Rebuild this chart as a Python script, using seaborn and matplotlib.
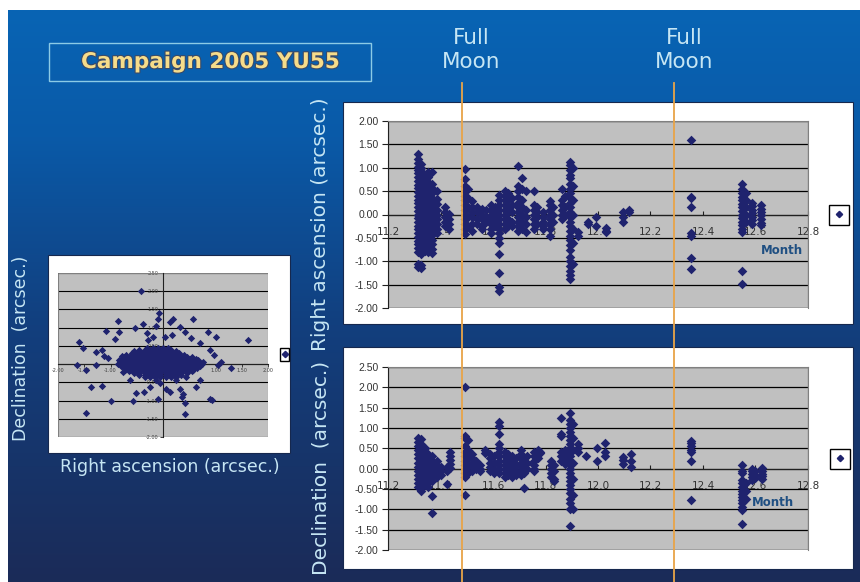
import numpy as np
import pandas as pd
import matplotlib.pyplot as plt
import seaborn as sns
import matplotlib.patheffects as pe
from matplotlib.colors import LinearSegmentedColormap
from matplotlib.lines import Line2D
from matplotlib.patches import Rectangle

W, H = 860, 582

# ---------------- data ----------------
full_moon = [11.48, 12.29]
month_ticks = [11.2, 11.4, 11.6, 11.8, 12.0, 12.2, 12.4, 12.6, 12.8]
ra_ticks = [-2.0, -1.5, -1.0, -0.5, 0.0, 0.5, 1.0, 1.5, 2.0]
dec_ticks = [-2.0, -1.5, -1.0, -0.5, 0.0, 0.5, 1.0, 1.5, 2.0, 2.5]
off_ticks_x = [-2.0, -1.5, -1.0, -0.5, 0.0, 0.5, 1.0, 1.5, 2.0]

# right ascension residuals, one list per observing time (month)
ra_month = [11.315, 11.327, 11.340, 11.353, 11.366, 11.388, 11.418, 11.433,
            11.494, 11.505, 11.520, 11.540, 11.558, 11.575, 11.594, 11.609,
            11.624, 11.644, 11.659, 11.674, 11.694, 11.709, 11.724, 11.755,
            11.766, 11.790, 11.818, 11.830, 11.864, 11.876, 11.894, 11.905,
            11.925, 11.963, 11.993, 12.030, 12.095, 12.118, 12.355, 12.550,
            12.562, 12.588, 12.622]
ra_vals = [
    [1.30, 1.18, 1.10, 1.02, 0.95, 0.88, 0.80, 0.72, 0.64, 0.56, 0.48, 0.40, 0.32, 0.24, 0.16,
     0.08, 0.00, -0.08, -0.16, -0.24, -0.32, -0.40, -0.48, -0.56, -0.64, -0.72, -0.80, -1.05, -1.12],
    [1.08, 1.00, 0.92, 0.84, 0.76, 0.68, 0.60, 0.52, 0.44, 0.36, 0.28, 0.20, 0.12, 0.04, -0.04,
     -0.12, -0.20, -0.28, -0.36, -0.44, -0.52, -0.60, -0.68, -0.76, -0.84, -1.08, -1.15],
    [0.82, 0.72, 0.62, 0.52, 0.42, 0.32, 0.22, 0.12, 0.02, -0.08, -0.18, -0.28, -0.38, -0.48, -0.58, -0.68, -0.78],
    [0.90, 0.80, 0.70, 0.60, 0.50, 0.40, 0.30, 0.20, 0.10, 0.00, -0.10, -0.20, -0.30, -0.40, -0.50, -0.60, -0.70, -0.80],
    [0.90, 0.66, 0.56, 0.46, 0.36, 0.26, 0.16, 0.06, -0.04, -0.14, -0.24, -0.34, -0.44, -0.54, -0.64, -0.74, -0.82],
    [0.50, 0.34, 0.22, 0.10, 0.00, -0.10, -0.20, -0.30, -0.40],
    [0.16, 0.05, -0.05, -0.15, -0.25],
    [0.02, -0.10, -0.20, -0.32],
    [0.98, 0.76, 0.62, 0.50, 0.40, 0.30, 0.20, 0.10, 0.00, -0.10, -0.20, -0.30, -0.42],
    [0.55, 0.35, 0.15, -0.05, -0.25],
    [0.28, 0.15, 0.05, -0.05, -0.20, -0.35],
    [0.15, 0.05, -0.10, -0.20],
    [0.12, 0.00, -0.10, -0.25, -0.32],
    [0.10, -0.05, -0.15],
    [0.20, 0.10, 0.00, -0.10, -0.20, -0.30, -0.40],
    [0.15, 0.05, -0.05, -0.15, -0.25],
    [0.42, 0.30, 0.20, 0.10, 0.00, -0.10, -0.20, -0.30, -0.40, -0.50, -0.60, -0.85, -1.25, -1.56, -1.63],
    [0.50, 0.40, 0.30, 0.20, 0.10, 0.00, -0.10, -0.20, -0.30],
    [0.45, 0.30, 0.15, 0.05, -0.10, -0.25],
    [0.35, 0.20, 0.05, -0.15, -0.25],
    [1.03, 0.62, 0.50, 0.38, 0.25, 0.15, 0.05, -0.05, -0.15, -0.25, -0.35],
    [0.78, 0.55, 0.30, 0.15, 0.00, -0.15, -0.30],
    [0.50, 0.10, -0.05, -0.20, -0.38],
    [0.50, 0.20, 0.10, 0.00, -0.10, -0.20, -0.30],
    [0.15, 0.05, -0.05, -0.20],
    [0.05, -0.05, -0.15, -0.25, -0.30],
    [0.28, 0.20, 0.10, 0.00, -0.10, -0.20, -0.30, -0.45],
    [0.15, 0.00, -0.15],
    [0.55, 0.30, 0.20, 0.10, 0.00, -0.10],
    [0.40, 0.15, 0.00],
    [1.12, 1.05, 0.95, 0.85, 0.78, 0.65, 0.55, 0.45, 0.35, 0.25, 0.15, 0.05, -0.05, -0.15, -0.25,
     -0.35, -0.45, -0.55, -0.65, -0.75, -0.90, -1.00, -1.10, -1.20, -1.30, -1.38],
    [1.00, 0.60, 0.30, 0.00, -0.30, -0.60, -1.05],
    [-0.38, -0.45],
    [-0.15, -0.20],
    [-0.05, -0.25],
    [-0.28, -0.35, -0.38],
    [0.05, -0.05, -0.15],
    [0.10, 0.06],
    [1.60, 0.38, 0.35, 0.15, -0.40, -0.45, -0.93, -1.17],
    [0.65, 0.55, 0.45, 0.38, 0.30, 0.22, 0.15, 0.08, 0.00, -0.08, -0.15, -0.22, -0.30, -0.38, -1.20, -1.48],
    [0.45, 0.30, 0.15, 0.00, -0.15],
    [0.25, 0.18, 0.10, 0.03, -0.05, -0.12, -0.20],
    [0.20, 0.12, 0.05, -0.02, -0.10, -0.18, -0.22],
]

# declination residuals
dec_month = [11.315, 11.327, 11.340, 11.353, 11.366, 11.385, 11.400, 11.425, 11.437,
             11.494, 11.505, 11.520, 11.535, 11.552, 11.570, 11.590, 11.605, 11.624,
             11.644, 11.659, 11.674, 11.689, 11.705, 11.719, 11.730, 11.755, 11.770,
             11.780, 11.820, 11.832, 11.860, 11.875, 11.894, 11.905, 11.922, 11.955,
             11.995, 12.027, 12.095, 12.125, 12.355, 12.550, 12.562, 12.585, 12.600,
             12.625]
dec_vals = [
    [0.75, 0.65, 0.55, 0.45, 0.35, 0.25, 0.15, 0.05, -0.05, -0.15, -0.25, -0.35, -0.45],
    [0.72, 0.60, 0.48, 0.36, 0.24, 0.12, 0.00, -0.12, -0.24, -0.36, -0.48, -0.55],
    [0.50, 0.40, 0.30, 0.20, 0.10, 0.00, -0.10, -0.20, -0.30, -0.40],
    [0.35, 0.25, 0.15, 0.05, -0.05, -0.15, -0.25, -0.35, -0.45],
    [0.30, 0.20, 0.10, 0.00, -0.10, -0.20, -0.30, -0.68, -1.10],
    [0.20, 0.10, 0.00, -0.10, -0.20],
    [0.05, -0.05, -0.15],
    [0.05, -0.05, -0.38],
    [0.42, 0.32, 0.22, 0.12, 0.02],
    [2.02, 0.80, 0.75, 0.55, 0.40, 0.30, 0.20, 0.10, 0.00, -0.10, -0.20, -0.65],
    [0.70, 0.45, 0.25, 0.05, -0.10],
    [0.35, 0.25, 0.15, 0.05, -0.05],
    [0.20, 0.10, 0.00],
    [0.10, 0.00, -0.05],
    [0.45, 0.38],
    [0.35, 0.25, 0.15, 0.05, -0.05],
    [0.30, 0.15, 0.00, -0.10],
    [1.15, 1.05, 0.85, 0.60, 0.50, 0.40, 0.30, 0.20, 0.10, 0.00, -0.10],
    [0.40, 0.30, 0.20, 0.10, 0.00, -0.10, -0.20],
    [0.35, 0.25, 0.15, 0.05, -0.05, -0.15],
    [0.30, 0.20, 0.10, 0.00, -0.10, -0.20],
    [0.25, 0.10, -0.05, -0.15],
    [0.45, 0.35, 0.25, 0.15, 0.05, -0.05, -0.15],
    [0.20, 0.05, -0.10, -0.48],
    [0.30, 0.15, 0.00],
    [0.40, 0.30, 0.20, 0.10, 0.00, -0.05],
    [0.45, 0.35, 0.25],
    [0.42, 0.38],
    [0.20, 0.10, 0.00, -0.10, -0.20],
    [0.10, -0.05, -0.25, -0.30],
    [1.25, 0.85, 0.80, 0.40, 0.30, 0.20],
    [0.45, 0.35, 0.25, 0.12],
    [1.38, 1.20, 1.10, 1.00, 0.90, 0.80, 0.70, 0.60, 0.50, 0.40, 0.30, 0.20, 0.10, 0.00, -0.10,
     -0.20, -0.30, -0.40, -0.50, -0.60, -0.75, -0.85, -1.00, -1.40],
    [1.10, 0.75, 0.45, 0.15, -0.25, -0.65, -0.98],
    [0.60, 0.50, 0.42],
    [0.30],
    [0.50, 0.20],
    [0.62, 0.40, 0.32],
    [0.28, 0.22, 0.12],
    [0.35, 0.20, 0.03],
    [0.68, 0.62, 0.55, 0.45, 0.40, 0.20, -0.78],
    [0.10, -0.05, -0.10, -0.28, -0.35, -0.45, -0.55, -0.62, -0.70, -0.78, -0.85, -0.95, -1.02, -1.35],
    [-0.35, -0.55, -0.75],
    [0.00, -0.05, -0.12, -0.20, -0.28],
    [-0.05, -0.15, -0.22],
    [0.02, -0.05, -0.12, -0.18, -0.25],
]

# RA vs Dec: the crowded core (one RA list per Dec row) and the outliers
core_dec = [0.45, 0.40, 0.35, 0.30, 0.25, 0.20, 0.15, 0.10, 0.05, 0.00,
            -0.05, -0.10, -0.15, -0.20, -0.25, -0.30, -0.35]
core_ra = [
    [-0.30, -0.20, -0.10, 0.00, 0.10],
    [-0.45, -0.35, -0.25, -0.15, -0.05, 0.05, 0.15],
    [-0.55, -0.45, -0.35, -0.25, -0.15, -0.05, 0.05, 0.15, 0.25],
    [-0.60, -0.50, -0.40, -0.30, -0.20, -0.10, 0.00, 0.10, 0.20, 0.30],
    [-0.70, -0.60, -0.50, -0.40, -0.30, -0.20, -0.10, 0.00, 0.10, 0.20, 0.30, 0.40],
    [-0.75, -0.65, -0.55, -0.45, -0.35, -0.25, -0.15, -0.05, 0.05, 0.15, 0.25, 0.35, 0.45, 0.55],
    [-0.78, -0.68, -0.58, -0.48, -0.38, -0.28, -0.18, -0.08, 0.02, 0.12, 0.22, 0.32, 0.42, 0.52, 0.62],
    [-0.83, -0.73, -0.63, -0.53, -0.43, -0.33, -0.23, -0.13, -0.03, 0.07, 0.17, 0.27, 0.37, 0.47,
     0.57, 0.67],
    [-0.82, -0.72, -0.62, -0.52, -0.42, -0.32, -0.22, -0.12, -0.02, 0.08, 0.18, 0.28, 0.38, 0.48,
     0.58, 0.68, 0.76],
    [-0.85, -0.75, -0.65, -0.55, -0.45, -0.35, -0.25, -0.15, -0.05, 0.05, 0.15, 0.25, 0.35, 0.45,
     0.55, 0.65, 0.75],
    [-0.80, -0.70, -0.60, -0.50, -0.40, -0.30, -0.20, -0.10, 0.00, 0.10, 0.20, 0.30, 0.40, 0.50,
     0.60, 0.70],
    [-0.75, -0.65, -0.55, -0.45, -0.35, -0.25, -0.15, -0.05, 0.05, 0.15, 0.25, 0.35, 0.45, 0.55, 0.65],
    [-0.72, -0.62, -0.52, -0.42, -0.32, -0.22, -0.12, -0.02, 0.08, 0.18, 0.28, 0.38, 0.48, 0.58],
    [-0.65, -0.55, -0.45, -0.35, -0.25, -0.15, -0.05, 0.05, 0.15, 0.25, 0.35, 0.45, 0.55],
    [-0.55, -0.45, -0.35, -0.25, -0.15, -0.05, 0.05, 0.15, 0.25, 0.35, 0.45],
    [-0.45, -0.35, -0.25, -0.15, -0.05, 0.05, 0.15, 0.25, 0.35],
    [-0.35, -0.25, -0.15, -0.05, 0.05, 0.15, 0.25],
]
scat_ra = [-0.41, -0.08, 0.13, 0.57, -0.86, -0.38, -1.08, -0.83, -0.54, -1.60, -1.52, -0.92,
           -0.30, 0.32, 0.41, 0.86, 1.00, 0.54, 1.62, -1.17, -1.13, -1.05, -1.27, -1.64,
           -0.79, -1.47, -1.38, -1.17, -1.00, -0.58, -0.51, -0.37, -0.25, -0.10, 0.06, 0.32,
           0.41, 0.41, -1.47, 0.63, 0.70, 0.89, 0.94, 1.05, 1.11, 1.30, 0.98, 0.89, 0.70,
           0.19, -1.27, -0.76, -0.63, 0.25, 0.44, -0.13, -0.06, 0.13, 0.38, 0.37, -0.29,
           -0.19, 0.03, 0.18, -0.13, -0.10]
scat_dec = [2.01, 1.41, 1.16, 1.24, 1.18, 1.09, 0.92, 0.89, 0.98, 0.61, 0.43, 0.68,
            0.84, 1.03, 0.89, 0.89, 0.75, 0.71, 0.66, 0.40, 0.22, 0.18, -0.03, -0.03,
            0.22, -0.16, -0.62, -0.60, -1.01, -1.01, -0.79, -0.76, -0.62, -0.97, -0.67, -0.67,
            -1.08, -1.37, -1.34, -0.62, -0.44, -0.97, -0.99, -0.03, 0.06, -0.12, 0.25, 0.38, 0.57,
            1.25, 0.34, -0.21, -0.44, -0.44, -0.35, -0.44, -0.53, -0.76, -0.81, -0.90, 0.66,
            0.75, 0.75, 0.80, 1.04, 1.25]

# ---------------- styling ----------------
navy = '#1f236e'
pale = '#c6e6f4'
plt.rcParams['font.family'] = ['DejaVu Sans']


def box(x0, y0, x1, y1):
    return [x0 / W, 1 - y1 / H, (x1 - x0) / W, (y1 - y0) / H]


def white_panel(x0, y0, x1, y1):
    fig.add_artist(Rectangle((x0 / W, 1 - y1 / H), (x1 - x0) / W, (y1 - y0) / H,
                             transform=fig.transFigure, facecolor='white',
                             edgecolor='#16284e', lw=0.8, zorder=-1))


def legend_box(ax, anchor, fs, hl):
    h = Line2D([], [], marker='D', ls='none', color=navy, ms=3.2)
    ax.legend(handles=[h], labels=[''], loc='center', bbox_to_anchor=anchor,
              frameon=True, fancybox=False, edgecolor='black', framealpha=1,
              handlelength=hl, handletextpad=0, borderpad=0.45, borderaxespad=0,
              fontsize=fs)


def time_chart(rect, month, vals, ylim, yticks, month_pos):
    ax = fig.add_axes(rect)
    df = pd.DataFrame([(m, v) for m, vs in zip(month, vals) for v in vs],
                      columns=['month', 'value'])
    sns.scatterplot(data=df, x='month', y='value', marker='D', s=24, color=navy,
                    linewidth=0, ax=ax, legend=False, zorder=3)
    ax.set_xlim(11.2, 12.8)
    ax.set_ylim(*ylim)
    ax.set_facecolor('#c0c0c0')
    ax.set_xticks(month_ticks, [f'{t:.1f}' for t in month_ticks], fontfamily='Liberation Sans')
    ax.set_yticks(yticks, [f'{t:.2f}' for t in yticks], fontfamily='Liberation Sans')
    ax.grid(axis='y', color='black', lw=0.9)
    ax.set_axisbelow(True)
    ax.spines['bottom'].set_position(('data', 0))
    for s in ['top', 'right']:
        ax.spines[s].set_color('#808080')
    for s in ['left', 'bottom']:
        ax.spines[s].set_color('#202020')
        ax.spines[s].set_zorder(1)
    ax.add_patch(Rectangle((0, 0), 1, 1, transform=ax.transAxes, fill=False,
                           edgecolor='#808080', lw=0.9, zorder=1))
    ax.tick_params(axis='y', direction='out', length=4, pad=3, labelsize=7.5,
                   labelcolor='#333333', color='#202020')
    ax.tick_params(axis='x', direction='in', length=3, pad=9, labelsize=7.5,
                   labelcolor='#333333', color='#202020')
    ax.set_xlabel('')
    ax.set_ylabel('')
    ax.text(month_pos[0], month_pos[1], 'Month', ha='right', va='center',
            fontsize=8.5, fontweight='bold', color='#1f4f82', zorder=4)
    return ax


fig = plt.figure(figsize=(W / 100, H / 100), dpi=100, facecolor='white')

# slide background gradient
slide = LinearSegmentedColormap.from_list(
    'slide', [(0.0, '#0864b4'), (0.22, '#0a5aa8'), (0.55, '#123f7e'), (1.0, '#1b2b58')])
bg = fig.add_axes(box(8, 10, 860, 582))
bg.imshow(np.linspace(0, 1, 256).reshape(-1, 1), aspect='auto', cmap=slide,
          extent=(0, 1, 0, 1))
bg.axis('off')
bg.set_zorder(-2)

white_panel(343, 102, 853, 324)
white_panel(343, 347, 853, 569)
white_panel(48, 255, 290, 453)

ax_ra = time_chart(box(388, 121, 808, 308), ra_month, ra_vals, (-2, 2), ra_ticks, (12.78, -0.78))
legend_box(ax_ra, (1.074, 0.497), 8, 0.9)

ax_dec = time_chart(box(388, 367, 808, 550), dec_month, dec_vals, (-2, 2.5), dec_ticks, (12.745, -0.82))
legend_box(ax_dec, (1.076, 0.497), 8, 0.9)

# RA vs Dec scatter
core = [(r, d) for d, rs in zip(core_dec, core_ra) for r in rs]
off = pd.DataFrame(core + list(zip(scat_ra, scat_dec)), columns=['ra', 'dec'])
axl = fig.add_axes(box(58, 273, 268, 437))
sns.scatterplot(data=off, x='ra', y='dec', marker='D', s=14, color=navy, linewidth=0,
                ax=axl, legend=False, zorder=3)
axl.set_xlim(-2, 2)
axl.set_ylim(-2, 2.5)
axl.set_facecolor('#c0c0c0')
axl.set_xticks(off_ticks_x, [f'{t:.2f}' for t in off_ticks_x])
axl.set_yticks(dec_ticks, [f'{t:.2f}' for t in dec_ticks])
axl.grid(axis='y', color='black', lw=0.8)
axl.set_axisbelow(True)
for s in ['left', 'bottom']:
    axl.spines[s].set_position(('data', 0))
    axl.spines[s].set_color('#202020')
    axl.spines[s].set_zorder(1)
for s in ['top', 'right']:
    axl.spines[s].set_visible(False)
axl.add_patch(Rectangle((0, 0), 1, 1, transform=axl.transAxes, fill=False,
                        edgecolor='#808080', lw=0.8, zorder=1))
axl.tick_params(direction='out', length=2, pad=1, labelsize=3.5, labelcolor='#404040',
                color='#202020', width=0.6)
axl.set_xlabel('')
axl.set_ylabel('')
legend_box(axl, (1.079, 0.503), 5, 0.35)

# full moon markers across the slide
for m in full_moon:
    fx = fig.transFigure.inverted().transform(ax_ra.transData.transform((m, 0)))[0]
    fig.add_artist(Line2D([fx, fx], [0, 1 - 83 / H], transform=fig.transFigure,
                          color='#e8a448', lw=1.3, zorder=5))
    fig.text(fx + 10 / W, 1 - 50 / H, 'Full\nMoon', ha='center', va='center',
             fontsize=15.5, color=pale, linespacing=1.25, zorder=6)

# title box
fig.add_artist(Rectangle((49 / W, 1 - 81 / H), 322 / W, 38 / H, transform=fig.transFigure,
                         fill=False, edgecolor='#8ccbe6', lw=1.0, zorder=1))
fig.text(210 / W, 1 - 62 / H, 'Campaign 2005 YU55', ha='center', va='center',
         fontsize=15.5, fontweight='bold', color='#f6dc8a', zorder=6,
         path_effects=[pe.withStroke(linewidth=1.6, foreground='#3a4a68')])

# axis titles on the slide
fig.text(321 / W, 1 - 224 / H, 'Right ascension (arcsec.)', rotation=90,
         ha='center', va='center', fontsize=14.5, color=pale)
fig.text(321 / W, 1 - 468 / H, 'Declination  (arcsec.)', rotation=90,
         ha='center', va='center', fontsize=14.5, color=pale)
fig.text(21 / W, 1 - 348 / H, 'Declination  (arcsec.)', rotation=90,
         ha='center', va='center', fontsize=12.5, color=pale)
fig.text(170 / W, 1 - 467 / H, 'Right ascension (arcsec.)',
         ha='center', va='center', fontsize=12.5, color=pale)

fig.savefig('out.png', dpi=100, facecolor='white')
